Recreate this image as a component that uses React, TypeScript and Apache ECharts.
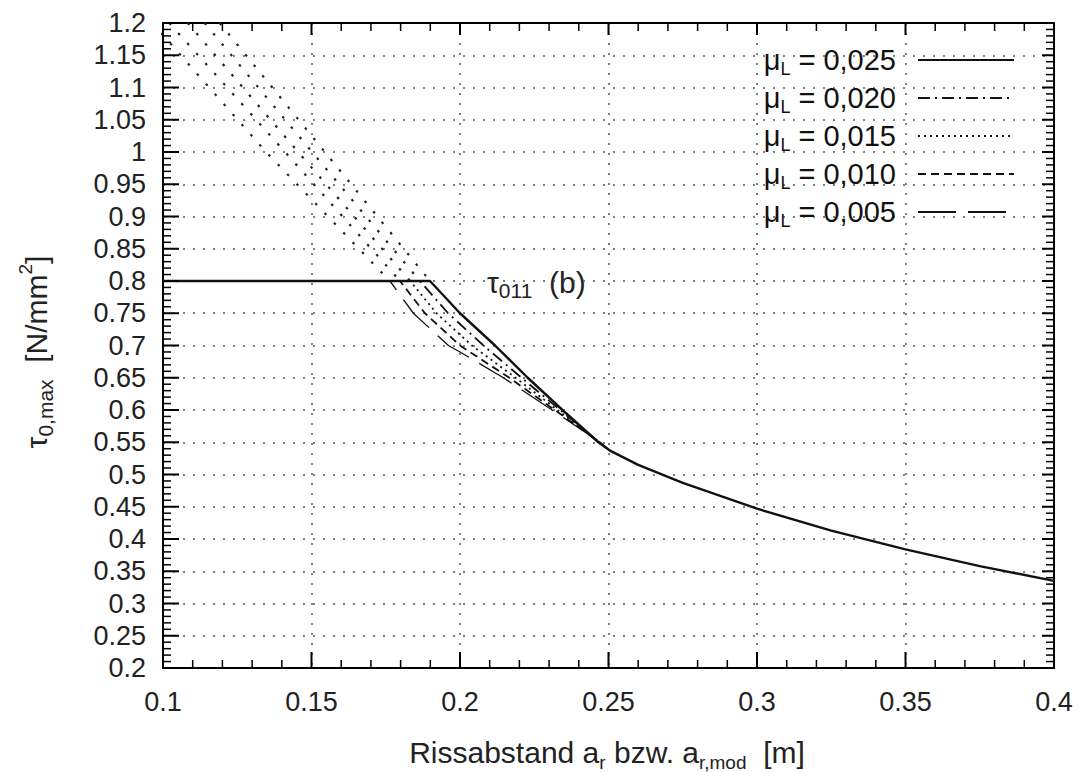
import React, { useEffect, useRef } from "react";
import * as echarts from "echarts";

const FONT = "'Liberation Sans', Arial, Helvetica, sans-serif";

// legend labels (μL values)
const muLabels = ["0,025", "0,020", "0,015", "0,010", "0,005"];

// capped curves τ0,max(a) for each μL
const c025X = [0.1, 0.1899, 0.2, 0.2118, 0.2228, 0.2345, 0.2466, 0.2505, 0.26, 0.275, 0.3, 0.325, 0.35, 0.375, 0.4];
const c025Y = [0.8, 0.8, 0.75, 0.7, 0.65, 0.6, 0.55, 0.537, 0.515, 0.487, 0.447, 0.413, 0.384, 0.358, 0.335];
const c020X = [0.1, 0.1865, 0.196, 0.2079, 0.2207, 0.2337, 0.2468, 0.2505];
const c020Y = [0.8, 0.8, 0.75, 0.7, 0.65, 0.6, 0.55, 0.537];
const c015X = [0.1, 0.1832, 0.1921, 0.204, 0.2187, 0.2328, 0.247, 0.2505];
const c015Y = [0.8, 0.8, 0.75, 0.7, 0.65, 0.6, 0.55, 0.537];
const c010X = [0.1, 0.1798, 0.1882, 0.2, 0.2166, 0.2319, 0.247, 0.2505];
const c010Y = [0.8, 0.8, 0.75, 0.7, 0.65, 0.6, 0.55, 0.537];
const c005X = [0.1, 0.1764, 0.1843, 0.1961, 0.2, 0.2146, 0.231, 0.2472, 0.2505];
const c005Y = [0.8, 0.8, 0.75, 0.7, 0.69, 0.65, 0.6, 0.55, 0.537];

// uncapped continuations above 0.8 (dotted)
const upperY = [1.2, 1.0, 0.8];
const upper005X = [0.0964, 0.1347, 0.1764];
const upper010X = [0.1021, 0.1411, 0.1798];
const upper015X = [0.1083, 0.1455, 0.1832];
const upper020X = [0.114, 0.1502, 0.1865];
const upper025X = [0.1191, 0.1545, 0.1899];

// axis ranges
const X_MIN = 0.1, X_MAX = 0.4, X_STEP = 0.05;
const Y_MIN = 0.2, Y_MAX = 1.2, Y_STEP = 0.05;
const MINOR_DIV = 5;

const zip = (xs: number[], ys: number[]) => xs.map((x, i) => [x, ys[i]]);

const lineStyles: Record<string, any> = {
  "0,025": { type: "solid", width: 2.4 },
  "0,020": { type: [12, 5, 2, 5], width: 1.8 },
  "0,015": { type: [2, 4], width: 1.8 },
  "0,010": { type: [8, 5], width: 1.8 },
  "0,005": { type: [38, 12], width: 1.3 },
};

// tick positions along the frame (kind 0/1: x major/minor, 2/3: y major/minor)
function tickItems() {
  const items: number[][] = [];
  const r = (v: number) => Math.round(v * 10000) / 10000;
  const xSub = X_STEP / MINOR_DIV;
  const nx = Math.round((X_MAX - X_MIN) / xSub);
  for (let i = 0; i <= nx; i++) items.push([r(X_MIN + i * xSub), Y_MIN, i % MINOR_DIV === 0 ? 0 : 1]);
  const ySub = Y_STEP / MINOR_DIV;
  const ny = Math.round((Y_MAX - Y_MIN) / ySub);
  for (let i = 0; i <= ny; i++) items.push([X_MIN, r(Y_MIN + i * ySub), i % MINOR_DIV === 0 ? 2 : 3]);
  return items;
}

export default function App() {
  const ref = useRef<HTMLDivElement>(null);
  useEffect(() => {
    if (!ref.current) return;
    const chart = echarts.init(ref.current, null, { renderer: "svg" });
    const curveData: Record<string, number[][]> = {
      "0,025": zip(c025X, c025Y),
      "0,020": zip(c020X, c020Y),
      "0,015": zip(c015X, c015Y),
      "0,010": zip(c010X, c010Y),
      "0,005": zip(c005X, c005Y),
    };
    const uppers = [upper005X, upper010X, upper015X, upper020X, upper025X];

    const frameAxis = (pos: string, label: any, split: boolean, min: number, max: number, step: number) => ({
      type: "value",
      position: pos,
      min,
      max,
      interval: step,
      axisLine: { show: true, onZero: false, lineStyle: { color: "#000", width: 2 } },
      axisTick: { show: false },
      minorTick: { show: false },
      axisLabel: label,
      splitLine: { show: split, lineStyle: { color: "#555", width: 1.5, type: [2, 8] } },
    });

    const series: any[] = [];
    uppers.forEach((xs) => {
      series.push({
        type: "line",
        name: "",
        data: zip(xs, upperY),
        symbol: "none",
        clip: true,
        lineStyle: { color: "#222", width: 2.2, type: [2.5, 11] },
        silent: true,
      });
    });
    ["0,005", "0,010", "0,015", "0,020", "0,025"].forEach((n) => {
      series.push({
        type: "line",
        name: n,
        data: curveData[n],
        symbol: "none",
        clip: true,
        itemStyle: { color: "rgba(0,0,0,0)" },
        lineStyle: { color: "#111", ...lineStyles[n] },
      });
    });
    // inward frame ticks, positioned through the axes' own scales
    series.push({
      type: "custom",
      name: "ticks",
      silent: true,
      clip: false,
      z: 10,
      data: tickItems(),
      encode: { x: 0, y: 1 },
      renderItem: (_params: any, api: any) => {
        const v0 = api.value(0);
        const v1 = api.value(1);
        const kind = api.value(2);
        const major = kind === 0 || kind === 2;
        const style = { stroke: "#000", lineWidth: major ? 2 : 1.5 };
        if (kind < 2) {
          const b = api.coord([v0, Y_MIN]);
          const t = api.coord([v0, Y_MAX]);
          const lb = major ? 16 : 8;
          const lt = major ? 12 : 8;
          return {
            type: "group",
            children: [
              { type: "line", shape: { x1: b[0], y1: b[1], x2: b[0], y2: b[1] - lb }, style },
              { type: "line", shape: { x1: t[0], y1: t[1], x2: t[0], y2: t[1] + lt }, style },
            ],
          };
        }
        const l = api.coord([X_MIN, v1]);
        const rr = api.coord([X_MAX, v1]);
        const ll = major ? 16 : 8;
        const lr = major ? 12 : 8;
        return {
          type: "group",
          children: [
            { type: "line", shape: { x1: l[0], y1: l[1], x2: l[0] + ll, y2: l[1] }, style },
            { type: "line", shape: { x1: rr[0], y1: rr[1], x2: rr[0] - lr, y2: rr[1] }, style },
          ],
        };
      },
    });

    const xLabel = { show: true, fontFamily: FONT, fontSize: 27, color: "#222", margin: 20 };
    const yLabel = { show: true, fontFamily: FONT, fontSize: 27, color: "#222", margin: 17 };

    chart.setOption({
      animation: false,
      backgroundColor: "#fff",
      grid: { left: 163, right: 31, top: 23, bottom: 104, containLabel: false },
      legend: {
        data: muLabels,
        orient: "vertical",
        right: 65,
        top: 37,
        align: "right",
        itemWidth: 96,
        itemHeight: 10,
        itemGap: 2,
        selectedMode: false,
        itemStyle: { color: "rgba(0,0,0,0)", borderWidth: 0 },
        lineStyle: { color: "#111" },
        formatter: (name: string) => `{mu|μ}{sub|L} = ${name}`,
        textStyle: {
          fontFamily: FONT,
          fontSize: 29,
          color: "#111",
          lineHeight: 36,
          padding: [0, 17, 0, 0],
          rich: {
            mu: { fontFamily: FONT, fontSize: 29, lineHeight: 36, color: "#111" },
            sub: { fontFamily: FONT, fontSize: 18, lineHeight: 18, verticalAlign: "bottom", color: "#111" },
          },
        },
      },
      xAxis: [
        frameAxis("bottom", xLabel, true, X_MIN, X_MAX, X_STEP),
        frameAxis("top", { show: false }, false, X_MIN, X_MAX, X_STEP),
      ],
      yAxis: [
        frameAxis("left", yLabel, true, Y_MIN, Y_MAX, Y_STEP),
        frameAxis("right", { show: false }, false, Y_MIN, Y_MAX, Y_STEP),
      ],
      series,
      graphic: [
        {
          type: "text",
          x: 607,
          y: 752,
          style: {
            text: "Rissabstand a{sub|r} bzw. a{sub|r,mod}  [m]",
            fontFamily: FONT,
            fontSize: 30,
            fill: "#222",
            align: "center",
            verticalAlign: "middle",
            lineHeight: 40,
            rich: {
              sub: { fontFamily: FONT, fontSize: 19, lineHeight: 19, verticalAlign: "bottom", fill: "#222" },
            },
          },
        },
        {
          type: "text",
          x: 36,
          y: 352,
          rotation: Math.PI / 2,
          style: {
            text: "τ{sub|0,max}  [N/mm{sup|2}]",
            fontFamily: FONT,
            fontSize: 30,
            fill: "#222",
            align: "center",
            verticalAlign: "middle",
            lineHeight: 40,
            rich: {
              sub: { fontFamily: FONT, fontSize: 21, lineHeight: 21, verticalAlign: "bottom", fill: "#222" },
              sup: { fontFamily: FONT, fontSize: 19, lineHeight: 19, verticalAlign: "top", fill: "#222" },
            },
          },
        },
        {
          type: "text",
          x: 487,
          y: 282,
          style: {
            text: "τ{sub|011}  (b)",
            fontFamily: FONT,
            fontSize: 30,
            fill: "#222",
            align: "left",
            verticalAlign: "middle",
            lineHeight: 38,
            rich: {
              sub: { fontFamily: FONT, fontSize: 21, lineHeight: 21, verticalAlign: "bottom", fill: "#222" },
            },
          },
        },
      ],
    });
    return () => chart.dispose();
  }, []);
  return (
    <div
      ref={ref}
      style={{ position: "fixed", left: 0, top: 0, width: 1085, height: 772, background: "#fff" }}
    />
  );
}
